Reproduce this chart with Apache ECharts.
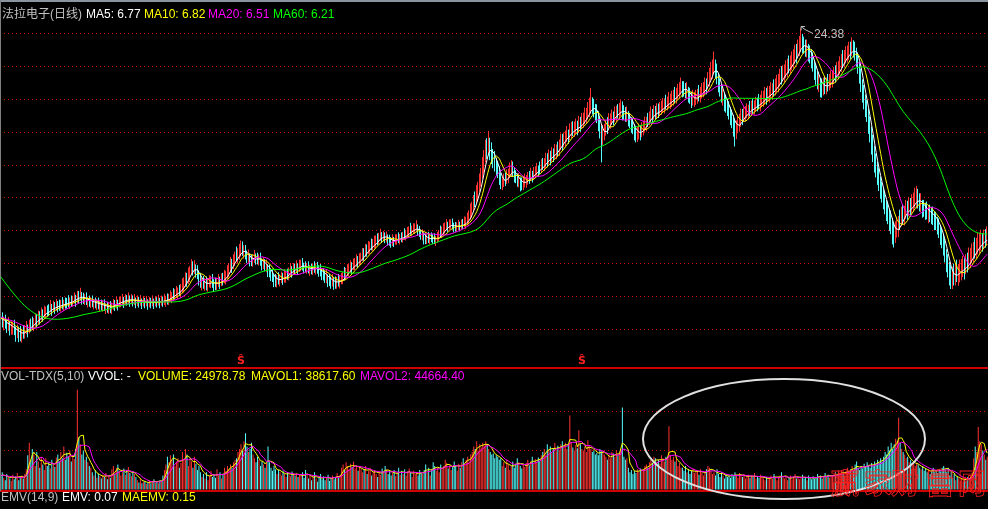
<!DOCTYPE html>
<html>
<head>
<meta charset="utf-8">
<script src="https://cdn.jsdelivr.net/npm/echarts@6/dist/echarts.min.js"></script>
<style>
html, body { margin: 0; padding: 0; background: #000; }
#chart { width: 988px; height: 509px; }
</style>
</head>
<body>
<div id="chart"></div>
<script>
// Daily candles: [open, close, low, high]
const ohlc = [
[4.22,4.15,3.98,4.36],[4.15,4.08,3.96,4.34],[4.06,4.14,3.89,4.23],[4.14,4.05,3.93,4.28],[4.05,3.99,3.83,4.16],[3.98,4.04,3.88,4.22],[4.04,3.96,3.77,4.11],
[3.94,3.96,3.79,4.11],[3.93,3.99,3.79,4.10],[3.99,3.90,3.78,4.15],[3.90,3.84,3.63,3.98],[3.84,3.88,3.71,4.03],[3.88,3.80,3.62,3.98],[3.80,3.78,3.64,4.00],
[3.78,3.85,3.61,3.93],[3.85,3.82,3.70,4.01],[3.82,3.90,3.70,4.02],[3.90,3.94,3.80,4.12],[3.94,3.92,3.73,4.03],[3.92,4.00,3.82,4.15],[4.04,4.00,3.86,4.18],
[4.04,4.02,3.90,4.23],[4.02,4.10,3.87,4.19],[4.10,4.16,3.99,4.31],[4.16,4.12,3.96,4.30],[4.12,4.20,4.04,4.39],[4.26,4.20,4.03,4.37],[4.20,4.30,4.13,4.47],
[4.30,4.26,4.10,4.42],[4.26,4.34,4.18,4.52],[4.34,4.38,4.17,4.49],[4.38,4.36,4.23,4.53],[4.44,4.36,4.24,4.56],[4.44,4.48,4.34,4.68],[4.48,4.44,4.25,4.57],
[4.44,4.50,4.35,4.66],[4.50,4.46,4.30,4.62],[4.46,4.52,4.38,4.71],[4.55,4.52,4.34,4.65],[4.55,4.50,4.38,4.69],[4.50,4.56,4.36,4.68],[4.56,4.54,4.42,4.76],
[4.54,4.60,4.37,4.69],[4.60,4.57,4.44,4.75],[4.62,4.57,4.44,4.74],[4.62,4.60,4.48,4.82],[4.60,4.66,4.43,4.75],[4.66,4.63,4.50,4.81],[4.63,4.68,4.50,4.80],
[4.68,4.72,4.58,4.90],[4.72,4.70,4.49,4.83],[4.70,4.78,4.59,4.95],[4.80,4.76,4.58,4.94],[4.76,4.82,4.66,5.04],
[4.82,4.74,4.55,4.91],[4.74,4.70,4.57,4.89],[4.70,4.73,4.54,4.85],[4.73,4.66,4.54,4.90],[4.66,4.68,4.47,4.77],[4.68,4.62,4.49,4.81],[4.62,4.64,4.46,4.76],
[4.64,4.60,4.48,4.81],[4.60,4.62,4.42,4.71],[4.62,4.57,4.45,4.75],[4.57,4.58,4.40,4.70],[4.58,4.54,4.42,4.75],[4.54,4.56,4.36,4.65],[4.56,4.52,4.39,4.69],
[4.52,4.54,4.36,4.66],[4.54,4.49,4.38,4.70],[4.49,4.50,4.30,4.59],[4.50,4.46,4.33,4.63],[4.46,4.48,4.30,4.60],[4.48,4.45,4.32,4.65],[4.45,4.52,4.29,4.61],
[4.52,4.56,4.41,4.71],[4.56,4.54,4.38,4.68],[4.54,4.60,4.44,4.78],[4.60,4.58,4.39,4.69],[4.58,4.63,4.47,4.78],[4.63,4.65,4.48,4.78],
[4.65,4.68,4.54,4.86],[4.68,4.64,4.46,4.77],[4.64,4.70,4.53,4.85],[4.70,4.67,4.52,4.82],[4.67,4.72,4.57,4.90],[4.72,4.68,4.49,4.81],[4.68,4.70,4.56,4.85],
[4.70,4.66,4.50,4.81],[4.66,4.67,4.54,4.85],[4.67,4.63,4.45,4.75],[4.63,4.66,4.51,4.81],[4.66,4.62,4.47,4.77],[4.62,4.64,4.52,4.82],[4.64,4.61,4.43,4.72],
[4.61,4.64,4.50,4.79],[4.64,4.60,4.45,4.74],[4.60,4.62,4.50,4.80],[4.62,4.59,4.41,4.70],[4.59,4.62,4.48,4.77],[4.62,4.60,4.45,4.74],[4.60,4.63,4.50,4.81],
[4.63,4.61,4.43,4.72],[4.61,4.64,4.50,4.79],[4.64,4.62,4.47,4.76],[4.62,4.65,4.52,4.83],[4.65,4.63,4.45,4.74],[4.63,4.66,4.52,4.81],[4.66,4.64,4.49,4.78],
[4.64,4.68,4.54,4.86],[4.68,4.70,4.49,4.80],[4.70,4.68,4.55,4.87],[4.68,4.73,4.54,4.86],[4.73,4.76,4.62,4.96],
[4.76,4.82,4.59,4.91],[4.86,4.82,4.69,5.03],[4.82,4.84,4.68,5.00],[4.84,4.90,4.74,5.10],[4.90,4.94,4.71,5.05],[4.94,4.92,4.79,5.13],[4.92,5.00,4.75,5.16],
[5.00,5.10,4.88,5.34],[5.10,5.22,4.90,5.37],[5.22,5.32,5.07,5.54],[5.32,5.28,5.07,5.52],[5.28,5.44,5.16,5.70],[5.44,5.60,5.22,5.75],[5.60,5.72,5.45,6.00],
[5.72,5.64,5.43,5.92],[5.64,5.70,5.48,5.96],[5.70,5.60,5.36,5.81],[5.60,5.46,5.31,5.78],[5.46,5.30,5.11,5.60],[5.30,5.20,5.04,5.52],[5.20,5.24,4.96,5.37],
[5.24,5.16,5.01,5.42],[5.16,5.18,4.95,5.34],[5.18,5.12,4.96,5.40],[5.12,5.20,4.92,5.33],[5.20,5.22,5.05,5.44],[5.22,5.26,5.03,5.42],[5.26,5.18,5.04,5.48],
[5.18,5.16,4.92,5.31],[5.16,5.13,4.97,5.36],[5.13,5.20,4.97,5.36],[5.20,5.24,5.06,5.48],[5.24,5.22,5.00,5.39],[5.22,5.30,5.09,5.50],[5.36,5.30,5.11,5.52],
[5.30,5.34,5.18,5.62],[5.34,5.46,5.14,5.59],[5.46,5.56,5.31,5.78],[5.56,5.68,5.37,5.86],[5.68,5.80,5.52,6.08],[5.80,5.78,5.52,6.01],[5.78,5.96,5.65,6.18],
[5.96,6.08,5.75,6.28],[6.16,6.08,5.92,6.48],[6.08,6.10,5.84,6.41],[6.10,6.30,5.97,6.58],[6.30,6.42,6.09,6.72],
[6.42,6.30,6.12,6.68],[6.30,6.34,6.02,6.53],[6.34,6.16,5.99,6.54],[6.16,6.06,5.85,6.32],[6.06,6.10,5.88,6.36],[6.10,5.96,5.74,6.21],[5.96,5.92,5.75,6.16],
[5.92,6.00,5.73,6.16],[6.00,6.08,5.86,6.34],[6.08,6.04,5.80,6.21],[6.04,5.98,5.81,6.24],[5.98,6.02,5.77,6.18],[6.02,5.90,5.76,6.24],[5.90,5.84,5.60,6.03],
[5.84,5.86,5.65,6.06],[5.86,5.76,5.57,6.00],[5.70,5.76,5.54,5.98],[5.76,5.62,5.38,5.81],[5.62,5.52,5.37,5.80],[5.52,5.44,5.25,5.66],[5.44,5.36,5.22,5.66],
[5.36,5.30,5.06,5.47],[5.30,5.24,5.07,5.48],[5.24,5.30,5.05,5.44],[5.30,5.28,5.14,5.54],[5.28,5.34,5.08,5.47],[5.34,5.36,5.19,5.56],[5.36,5.32,5.13,5.52],
[5.32,5.40,5.20,5.64],[5.40,5.46,5.20,5.59],[5.46,5.44,5.29,5.66],[5.44,5.54,5.27,5.70],[5.54,5.62,5.40,5.86],[5.62,5.58,5.36,5.75],[5.58,5.66,5.45,5.86],
[5.66,5.64,5.45,5.84],[5.64,5.72,5.52,5.96],[5.72,5.68,5.46,5.85],[5.68,5.76,5.55,5.98],[5.76,5.82,5.57,5.98],
[5.82,5.76,5.60,6.04],[5.76,5.72,5.50,5.87],[5.72,5.68,5.53,5.92],[5.68,5.70,5.49,5.86],[5.70,5.64,5.50,5.92],[5.64,5.66,5.42,5.79],[5.66,5.62,5.47,5.84],
[5.62,5.68,5.45,5.82],[5.68,5.66,5.52,5.92],[5.66,5.72,5.46,5.85],[5.72,5.64,5.49,5.90],[5.64,5.60,5.39,5.78],[5.60,5.56,5.40,5.82],[5.56,5.50,5.28,5.67],
[5.50,5.44,5.27,5.68],[5.44,5.40,5.19,5.58],[5.35,5.40,5.18,5.62],[5.40,5.30,5.06,5.47],[5.30,5.26,5.09,5.48],[5.26,5.23,5.01,5.40],[5.23,5.26,5.08,5.48],
[5.26,5.20,4.98,5.37],[5.20,5.19,5.01,5.40],[5.19,5.24,5.01,5.38],[5.24,5.22,5.08,5.48],[5.22,5.28,5.02,5.41],[5.28,5.32,5.15,5.52],[5.32,5.40,5.15,5.56],
[5.48,5.40,5.28,5.72],[5.40,5.56,5.28,5.69],[5.56,5.60,5.41,5.82],[5.60,5.66,5.41,5.82],[5.66,5.70,5.52,5.96],[5.76,5.70,5.48,5.89],[5.70,5.82,5.61,6.02],
[5.82,5.86,5.61,6.04],[5.86,5.92,5.72,6.18],[5.96,5.92,5.68,6.11],[5.92,6.00,5.79,6.22],[6.00,6.06,5.81,6.24],
[6.06,6.16,5.92,6.42],[6.26,6.16,5.94,6.41],[6.16,6.36,6.09,6.58],[6.36,6.32,6.09,6.56],[6.32,6.44,6.18,6.70],[6.44,6.50,6.20,6.67],[6.56,6.50,6.33,6.80],
[6.50,6.52,6.31,6.78],[6.52,6.66,6.40,6.92],[6.66,6.76,6.42,6.93],[6.76,6.72,6.53,7.02],[6.72,6.86,6.55,7.04],[6.86,6.92,6.70,7.22],[6.92,6.86,6.62,7.07],
[6.86,6.90,6.69,7.12],[6.90,6.82,6.61,7.06],[6.82,6.84,6.64,7.10],[6.84,6.76,6.52,6.97],[6.76,6.70,6.51,6.96],[6.70,6.66,6.43,6.86],[6.66,6.72,6.50,6.98],
[6.72,6.70,6.46,6.87],[6.70,6.76,6.55,6.98],[6.76,6.80,6.55,6.98],[6.80,6.78,6.62,7.06],[6.78,6.84,6.56,6.99],[6.84,6.82,6.65,7.06],[6.82,6.90,6.63,7.08],
[6.96,6.90,6.76,7.24],[6.90,7.00,6.72,7.17],[7.00,7.06,6.85,7.30],[7.06,7.12,6.85,7.32],[7.18,7.12,6.96,7.48],[7.12,7.14,6.90,7.35],[7.14,7.22,6.99,7.46],
[7.22,7.24,6.99,7.46],[7.24,7.28,7.08,7.60],[7.28,7.16,6.92,7.41],[7.16,7.04,6.87,7.34],[7.04,6.96,6.75,7.18],[6.88,6.96,6.72,7.20],[6.96,6.80,6.56,7.01],
[6.80,6.76,6.57,7.00],[6.76,6.82,6.57,6.98],[6.82,6.78,6.62,7.08],[6.78,6.84,6.56,6.99],[6.84,6.82,6.65,7.06],[6.82,6.78,6.57,6.98],[6.78,6.74,6.58,7.02],
[6.74,6.76,6.50,6.91],[6.76,6.86,6.63,7.08],[6.86,6.98,6.69,7.16],[7.08,6.98,6.84,7.36],[6.98,7.14,6.84,7.31],[7.14,7.22,6.97,7.46],[7.22,7.30,7.01,7.50],
[7.30,7.36,7.14,7.66],[7.36,7.32,7.08,7.53],[7.32,7.40,7.17,7.64],[7.40,7.42,7.19,7.64],[7.42,7.34,7.18,7.68],[7.34,7.30,7.06,7.49],[7.30,7.26,7.09,7.52],
[7.26,7.32,7.07,7.50],[7.32,7.36,7.16,7.62],[7.36,7.34,7.10,7.53],[7.34,7.42,7.21,7.64],[7.46,7.42,7.21,7.66],[7.42,7.50,7.30,7.78],[7.50,7.56,7.20,7.76],
[7.56,7.66,7.36,7.96],[7.66,7.80,7.42,8.07],[7.80,8.02,7.62,8.42],
[8.02,8.26,7.72,8.50],[8.26,8.50,8.04,8.86],[8.68,8.50,8.22,9.05],[8.50,8.90,8.44,9.42],[8.90,9.30,8.56,9.60],[9.30,9.66,9.04,10.10],[9.66,10.04,9.32,10.45],
[10.04,10.60,9.78,11.16],[10.60,11.20,10.09,11.65],[11.20,11.66,10.80,12.40],[11.80,11.66,11.03,12.52],[11.66,12.00,11.32,13.08],[12.00,11.60,10.95,12.55],
[11.60,11.30,10.70,12.20],[11.30,11.00,10.43,11.72],[11.00,10.80,10.22,11.58],[10.80,10.50,9.96,11.10],[10.50,10.30,9.82,10.90],[10.30,9.80,9.42,10.55],
[9.80,9.46,9.18,10.16],
[9.46,9.60,9.12,9.90],[9.60,9.70,9.30,10.10],[9.76,9.70,9.36,10.15],[9.70,9.86,9.48,10.36],[9.86,10.10,9.52,10.40],[10.10,10.30,9.82,10.80],
[10.30,10.46,9.92,10.95],[10.46,10.20,9.88,10.86],[10.20,10.00,9.56,10.46],[10.00,9.84,9.52,10.30],[9.84,9.70,9.32,10.11],[9.60,9.70,9.28,10.12],
[9.70,9.50,9.06,9.86],[9.50,9.44,9.12,9.86],[9.44,9.56,9.12,9.87],[9.56,9.64,9.28,10.10],[9.64,9.72,9.26,10.00],[9.72,9.80,9.44,10.18],[9.90,9.80,9.48,10.25],
[9.80,10.02,9.64,10.46],[10.02,9.96,9.56,10.26],[9.96,10.14,9.72,10.50],[10.14,10.22,9.82,10.55],[10.22,10.34,9.96,10.78],[10.34,10.30,9.90,10.60],
[10.50,10.30,10.06,10.86],[10.30,10.66,10.18,11.01],[10.66,10.60,10.32,11.10],[10.60,10.80,10.26,11.08],[10.80,10.98,10.46,11.46],[10.98,10.94,10.49,11.42],
[10.94,11.12,10.66,11.68],[11.20,11.12,10.61,11.59],[11.12,11.32,10.84,11.86],[11.32,11.28,10.83,11.76],[11.28,11.50,11.02,12.08],[11.50,11.66,11.01,12.05],
[11.66,11.60,11.20,12.26],[11.60,11.94,11.23,12.42],[11.94,12.24,11.62,12.88],
[12.40,12.24,11.65,12.85],[12.24,12.30,11.84,12.96],[12.30,12.60,11.89,13.12],[12.60,12.78,12.22,13.48],[12.78,12.70,12.09,13.19],[12.70,13.00,12.36,13.70],
[13.00,13.18,12.53,13.82],[13.18,13.10,12.68,13.88],[13.10,13.30,12.61,13.85],[13.30,13.34,12.84,14.10],[13.34,13.26,12.73,13.92],[13.26,13.56,12.92,14.34],
[13.70,13.56,13.01,14.25],[13.56,13.84,13.30,14.60],[13.84,13.96,13.33,14.62],[13.96,14.20,13.62,15.08],[14.20,14.44,13.65,15.05],[14.44,14.70,14.00,15.60],
[14.70,15.00,14.23,16.02],[15.00,15.34,14.52,16.98],[15.34,15.10,14.45,16.05],[15.10,14.90,14.20,15.90],[14.90,14.60,13.93,15.42],[14.60,14.40,13.72,15.38],
[14.40,13.70,13.05,14.75],[13.70,13.10,12.50,14.20],[13.10,12.40,10.80,13.52],
[12.40,12.90,12.02,13.58],[12.90,13.10,12.35,13.65],[13.10,13.34,12.70,14.00],[13.60,13.34,12.83,14.22],[13.34,13.80,13.22,14.58],[13.80,14.00,13.25,14.55],
[14.00,14.18,13.60,14.90],[14.18,14.10,13.53,14.72],[14.10,14.40,13.78,15.18],[14.40,14.70,13.85,15.25],[14.70,14.60,14.10,15.40],[14.60,14.80,14.13,15.52],
[14.80,14.88,14.32,15.78],[14.88,14.70,13.95,15.65],[14.70,14.60,14.00,15.30],[14.60,14.50,13.83,15.12],[14.40,14.50,13.82,15.18],[14.50,14.10,13.45,14.75],
[14.10,13.80,13.30,14.60],[13.80,13.60,12.93,14.22],[13.60,13.30,12.82,14.18],[13.30,13.00,12.35,13.65],[13.00,12.80,12.20,13.50],[12.80,12.90,12.23,13.42],
[12.90,12.96,12.42,13.68],[13.10,12.96,12.35,13.55],[12.96,13.18,12.60,13.80],[13.18,13.40,12.73,13.92],[13.40,13.60,13.02,14.28],[13.60,13.84,13.05,14.25],
[14.00,13.84,13.40,14.60],[13.84,14.20,13.53,14.72],[14.20,14.44,13.82,15.18],
[14.44,14.40,13.75,14.95],[14.40,14.60,14.00,15.30],[14.60,14.56,14.03,15.22],[14.56,14.70,14.12,15.48],[14.90,14.70,14.15,15.45],[14.70,14.86,14.30,15.60],
[14.86,15.06,14.43,15.72],[15.06,15.20,14.62,15.98],[15.20,15.30,14.55,15.95],[15.52,15.30,14.90,16.30],[15.30,15.40,14.83,16.12],[15.40,15.70,15.02,16.58],
[15.70,15.76,14.94,16.40],[15.76,15.80,15.12,16.70],[15.80,16.00,15.24,16.80],[16.10,16.00,15.46,17.10],[16.00,16.30,15.44,17.00],[16.30,16.56,15.82,17.40],
[16.56,16.80,15.94,17.60],[16.80,17.00,16.26,18.10],[17.00,16.90,16.04,17.70],[16.90,16.80,16.12,17.70],[16.80,16.70,15.94,17.50],[16.60,16.70,15.96,17.60],
[16.70,16.30,15.54,17.10],[16.30,16.00,15.42,17.00],[16.00,15.80,15.04,16.60],[15.80,15.90,15.26,16.80],[15.90,15.96,15.14,16.60],[15.96,16.00,15.32,16.80],
[16.00,16.20,15.44,16.90],[16.30,16.20,15.66,17.30],[16.20,16.50,15.54,17.10],[16.50,16.60,15.92,17.50],[16.60,16.90,16.04,17.60],[16.90,17.10,16.36,18.10],
[17.32,17.10,16.34,18.00],
[17.10,17.80,16.82,18.70],[17.80,18.30,17.14,19.20],[18.30,18.78,17.76,19.90],[18.78,19.20,17.94,20.20],[19.20,19.56,18.52,21.20],[19.56,18.80,18.04,20.20],
[18.80,18.00,17.36,19.70],[18.00,17.30,16.54,18.60],[17.30,16.80,16.12,18.00],[16.80,16.30,15.54,17.40],[15.90,16.30,15.26,17.10],[16.30,15.60,14.74,16.50],
[15.60,15.34,14.62,16.30],[15.34,15.00,14.33,15.92],[15.00,14.60,14.02,15.68],[14.60,14.30,13.55,15.15],[14.30,14.00,13.30,14.90],[14.00,13.50,12.63,14.42],
[13.50,13.18,11.90,14.08],[13.18,13.40,12.45,13.95],[13.40,13.58,12.90,14.30],[13.58,13.90,13.03,14.52],[13.90,14.18,13.42,14.98],
[14.40,14.18,13.55,14.95],[14.18,14.36,13.80,15.10],[14.36,14.56,13.83,15.22],[14.56,14.70,14.12,15.48],[14.70,14.80,14.05,15.35],[14.90,14.80,14.30,15.70],
[14.80,15.06,14.33,15.72],[15.06,15.00,14.52,15.88],[15.00,15.20,14.45,15.75],[15.20,15.34,14.70,16.10],[15.34,15.30,14.73,16.02],[15.50,15.30,14.92,16.38],
[15.30,15.70,14.74,16.30],[15.70,15.80,15.12,16.70],[15.80,15.90,15.14,16.70],[15.90,16.10,15.36,17.10],[16.30,16.10,15.34,17.00],[16.10,16.20,15.62,17.20],
[16.20,16.40,15.54,17.20],[16.40,16.60,15.86,17.60],[16.60,16.80,15.84,17.50],[16.90,16.80,16.12,17.90],[16.80,17.10,16.24,18.00],[17.10,17.32,16.56,18.40],
[17.32,17.70,16.54,18.50],[17.70,18.00,17.12,19.10],[18.40,18.00,17.34,19.40],[18.00,18.30,17.66,19.50],[18.30,18.70,17.54,19.60],[18.70,18.96,18.02,20.10],
[18.96,19.20,18.14,20.30],[19.40,19.20,18.56,20.70],[19.20,19.70,18.54,20.70],[19.70,19.90,18.92,21.20],[19.90,20.30,19.14,21.50],[20.30,20.70,19.66,22.10],
[21.16,20.70,19.74,22.20],[20.70,21.50,20.32,22.80],[21.50,22.00,20.64,23.30],[22.00,22.48,21.16,24.38],
[22.48,22.00,20.94,23.60],[22.00,21.80,20.92,23.20],[21.80,21.60,20.54,22.80],[21.40,21.60,20.46,22.80],[21.60,21.00,19.94,22.20],[21.00,20.60,19.72,22.00],
[20.60,20.16,19.14,21.50],[20.16,19.50,18.76,21.10],[19.50,18.80,17.84,20.10],[18.80,18.18,17.32,19.60],[18.18,17.80,16.84,18.90],[17.40,17.80,16.56,18.70],
[17.80,17.10,16.04,18.00],[17.10,17.00,16.02,18.00],[17.00,17.20,16.24,18.10],[17.20,17.10,16.36,18.20],[17.10,17.32,16.34,18.10],[17.50,17.32,16.62,18.50],
[17.32,17.60,16.74,18.50],[17.60,17.84,16.96,18.90],[17.84,18.10,17.04,18.90],[18.10,18.30,17.42,19.30],[18.50,18.30,17.54,19.50],[18.30,18.78,17.86,19.90],
[18.78,19.10,17.94,20.00],[19.10,19.50,18.42,20.60],[19.50,19.90,18.74,20.90],[20.20,19.90,19.16,21.40],[19.90,20.50,19.24,21.40],[20.50,20.78,19.72,21.90],
[20.78,20.90,19.84,22.00],[20.90,21.20,20.16,22.50],[21.40,21.20,20.24,22.50],[21.20,21.68,20.62,23.10],[21.68,21.40,20.44,22.70],[21.40,20.90,20.06,22.50],
[20.90,20.40,19.34,21.70],
[20.40,19.30,18.52,21.10],[19.30,18.30,17.44,19.90],[18.30,17.32,16.56,19.10],[17.32,16.50,15.54,17.90],[16.50,15.70,14.92,17.30],[15.70,15.00,14.23,16.32],
[15.00,14.44,13.82,15.78],[14.44,13.60,12.85,14.95],[13.60,12.80,12.20,14.30],[12.80,12.02,11.33,13.42],[12.02,11.40,10.82,12.78],[11.40,10.90,10.15,11.95],
[10.90,10.34,9.86,11.40],[10.34,9.90,9.42,10.85],[9.90,9.50,9.08,10.46],[9.50,9.20,8.66,9.90],[9.20,8.88,8.46,9.60],[8.88,8.60,8.12,9.25],
[8.60,8.30,7.88,9.06],[8.30,8.10,7.56,8.60],[8.10,7.86,7.42,8.50],[7.86,7.60,7.12,8.15],[7.60,7.42,6.98,8.06],[7.42,7.10,6.56,7.70],
[7.10,6.96,6.44,7.50],[6.96,7.10,6.62,7.55],[7.10,7.26,6.84,7.76],[7.26,7.42,6.86,7.80],[7.60,7.42,7.16,8.10],[7.42,7.86,7.32,8.25],
[7.86,7.80,7.44,8.36],[7.80,7.96,7.36,8.30],[7.96,8.10,7.66,8.60],[8.10,8.04,7.62,8.55],[8.04,8.20,7.78,8.76],[8.28,8.20,7.76,8.70],
[8.20,8.36,7.92,8.90],[8.36,8.50,8.02,8.99],[8.50,8.60,8.18,9.26],[8.60,8.72,8.16,9.36],[8.72,8.56,8.16,9.20],[8.56,8.46,8.02,8.95],
[8.36,8.46,7.98,8.96],[8.46,8.20,7.72,8.60],[8.20,8.14,7.76,8.60],[8.14,8.06,7.62,8.45],[8.06,8.00,7.64,8.52],[7.96,8.00,7.46,8.30],
[8.00,7.90,7.52,8.36],[7.90,7.86,7.42,8.25],[7.86,7.76,7.38,8.26],[7.76,7.66,7.16,8.00],[7.66,7.54,7.16,8.00],[7.54,7.36,6.97,7.76],
[7.36,7.16,6.82,7.68],[7.16,6.96,6.54,7.37],[6.96,6.76,6.41,7.24],
[6.76,6.50,6.13,7.00],[6.50,6.20,5.88,6.78],[6.20,5.92,5.54,6.37],[5.92,5.70,5.37,6.18],[5.70,5.50,5.11,5.90],[5.50,5.36,5.00,5.78],
[5.36,5.44,5.00,5.73],[5.44,5.40,5.11,5.84],[5.40,5.50,5.11,5.86],[5.56,5.50,5.22,5.98],[5.50,5.56,5.10,5.83],[5.56,5.60,5.21,5.98],
[5.60,5.64,5.27,6.00],[5.64,5.70,5.38,6.12],[5.70,5.66,5.30,6.03],[5.66,5.80,5.47,6.18],[5.90,5.80,5.53,6.24],[5.80,6.00,5.66,6.44],
[6.00,6.08,5.68,6.43],[6.08,6.18,5.85,6.60],[6.18,6.26,5.87,6.66],[6.36,6.26,6.02,6.84],[6.26,6.44,6.00,6.83],[6.44,6.56,6.17,7.04],
[6.56,6.60,6.21,7.04],[6.60,6.68,6.32,7.18],[6.68,6.64,6.28,7.03],[6.64,6.74,6.37,7.18],[6.80,6.74,6.43,7.20],[6.74,6.84,6.52,7.32]
];

// Daily volume (lots), one per candle
const volumes = [
18000,22000,15000,12000,20000,16000,14000,11000,19000,13000,17000,21000,12000,15000,18000,14000,20000,
26000,44000,60000,38000,52000,45000,30000,48000,
36000,28000,42000,32000,25000,40000,30000,35000,27000,38000,33000,29000,41000,
45000,36000,48000,40000,55000,38000,47000,42000,50000,36000,44000,39000,52000,
128000,67000,
58000,45000,50000,38000,42000,35000,30000,28000,
22000,18000,25000,15000,20000,17000,14000,19000,16000,21000,13000,18000,15000,
26000,30000,20000,28000,32000,24000,18000,22000,27000,19000,25000,29000,21000,17000,23000,20000,16000,
12000,9000,14000,8000,10000,11000,7000,9000,12000,8000,10000,13000,9000,11000,8000,12000,10000,
18000,25000,32000,42000,35000,44000,38000,45000,30000,36000,40000,28000,34000,
48000,38000,52000,45000,30000,40000,36000,28000,42000,33000,25000,30000,22000,
16000,20000,14000,22000,12000,18000,24000,16000,20000,15000,26000,18000,22000,14000,19000,28000,24000,30000,26000,32000,28000,35000,38000,
40000,48000,52000,58000,
50000,62000,72000,55000,48000,52000,60000,
45000,40000,35000,42000,38000,30000,36000,32000,28000,34000,
55000,
35000,28000,24000,30000,26000,20000,25000,22000,18000,24000,20000,16000,22000,19000,17000,23000,20000,18000,21000,16000,19000,
18000,22000,15000,25000,20000,14000,18000,12000,16000,22000,14000,10000,16000,20000,13000,17000,12000,15000,19000,11000,14000,18000,13000,16000,21000,15000,19000,
28000,32000,25000,35000,30000,26000,33000,29000,36000,27000,31000,24000,30000,26000,
22000,26000,30000,20000,24000,28000,18000,22000,25000,20000,16000,24000,19000,27000,22000,30000,26000,20000,23000,18000,
21000,25000,17000,22000,28000,19000,24000,20000,26000,18000,23000,27000,21000,16000,24000,20000,22000,18000,25000,21000,
20000,25000,32000,22000,28000,18000,26000,35000,30000,24000,28000,22000,32000,26000,30000,38000,34000,27000,31000,25000,
29000,36000,30000,24000,33000,28000,35000,40000,32000,38000,42000,36000,45000,
48000,55000,52000,62000,50000,58000,54000,60000,56000,62000,58000,52000,48000,45000,
46000,40000,44000,42000,38000,40000,
30000,35000,28000,38000,32000,25000,30000,36000,28000,33000,40000,35000,30000,27000,32000,29000,34000,38000,31000,36000,42000,33000,39000,35000,41000,37000,44000,
48000,52000,45000,58000,50000,55000,47000,53000,60000,49000,56000,51000,58000,
62000,55000,60000,52000,58000,95000,60000,54000,50000,57000,53000,76000,58000,52000,50000,55000,48000,63000,55000,52000,48000,50000,45000,47000,44000,52000,49000,
50000,45000,42000,38000,44000,40000,48000,46000,42000,50000,44000,47000,52000,
105000,
42000,38000,40000,28000,22000,25000,20000,24000,21000,26000,23000,27000,25000,
26000,30000,32000,28000,35000,38000,34000,42000,40000,36000,38000,33000,44000,40000,36000,42000,39000,
81000,
44000,38000,42000,36000,40000,30000,34000,28000,
28000,24000,30000,22000,26000,20000,24000,27000,21000,25000,23000,19000,26000,22000,
18000,22000,26000,30000,28000,24000,20000,22000,18000,26000,20000,16000,22000,18000,14000,20000,16000,18000,15000,20000,
17000,22000,19000,15000,21000,18000,16000,20000,14000,17000,19000,15000,18000,16000,21000,14000,17000,15000,19000,16000,
14000,12000,16000,13000,15000,18000,14000,20000,16000,12000,15000,18000,22000,17000,14000,16000,12000,15000,18000,13000,
16000,20000,14000,17000,13000,15000,19000,14000,16000,12000,18000,15000,13000,17000,14000,16000,20000,15000,18000,14000,
17000,21000,16000,19000,15000,18000,
18000,20000,22000,16000,24000,20000,25000,22000,18000,24000,28000,22000,26000,30000,24000,32000,36000,28000,25000,30000,
27000,33000,29000,35000,31000,28000,34000,30000,36000,32000,38000,34000,40000,36000,
42000,48000,45000,55000,50000,60000,52000,58000,65000,62000,
92000,
60000,52000,48000,45000,40000,42000,35000,38000,32000,36000,30000,34000,
32000,28000,26000,30000,24000,27000,22000,26000,20000,24000,28000,22000,25000,21000,26000,23000,28000,
30000,26000,22000,28000,18000,24000,15000,20000,12000,17000,14000,11000,15000,10000,13000,12000,16000,14000,18000,22000,
40000,55000,48000,80000,62000,58000,50000,45000,38000,42000
];

// Closes of the sessions just before the first candle (used only for the averages)
const earlierCloses = [
8.20,8.05,7.92,7.80,7.66,7.52,7.40,7.28,7.14,7.00,6.88,6.76,6.64,6.52,6.40,6.28,6.16,6.05,5.94,5.84,
5.74,5.64,5.55,5.46,5.38,5.30,5.22,5.14,5.06,4.98,4.90,4.82,4.76,4.70,4.64,4.58,4.53,4.48,4.44,4.40,
4.36,4.33,4.30,4.28,4.26,4.24,4.22,4.20,4.19,4.18,4.17,4.16,4.16,4.17,4.18,4.19,4.20,4.21,4.22
];

// Sessions carrying an "S" flag under the candles
const flaggedBars = [160, 387];

const maPeriods = [5, 10, 20, 60];
const maColors = ['#ffffff', '#ffff00', '#ff00ff', '#00ff00'];
const volPeriods = [5, 10];
const volColors = ['#ffff00', '#ff00ff'];

const FONT = '12px "Liberation Sans", Arial, "Noto Sans CJK SC", sans-serif';
const headerRows = [
  { y: 15, items: [
    ['法拉电子(日线)', 2, '#c0c0c0'], ['MA5: 6.77', 86, '#ffffff'], ['MA10: 6.82', 144, '#ffff00'],
    ['MA20: 6.51', 208, '#ff00ff'], ['MA60: 6.21', 273, '#00ff00']] },
  { y: 377, items: [
    ['VOL-TDX(5,10)', 1, '#c0c0c0'], ['VVOL: -', 88, '#ffffff'], ['VOLUME: 24978.78', 138, '#ffff00'],
    ['MAVOL1: 38617.60', 251, '#ffff00'], ['MAVOL2: 44664.40', 360, '#ff00ff']] },
  { y: 498, items: [
    ['EMV(14,9)', 1, '#c0c0c0'], ['EMV: 0.07', 62, '#ffffff'], ['MAEMV: 0.15', 122, '#ffff00']] }
];
const watermark = ['赢', '家', '财', '富', '网'];

const UP = '#ff3232', DOWN = '#54fcfc';

function movingAvg(values, n, prior) {
  const all = prior.concat(values);
  const off = prior.length;
  return values.map((_, i) => {
    const end = off + i;
    const start = Math.max(0, end - n + 1);
    let s = 0;
    for (let k = start; k <= end; k++) s += all[k];
    return +(s / (end - start + 1)).toFixed(4);
  });
}

const closes = ohlc.map(d => d[1]);
const cats = ohlc.map((_, i) => i);

const series = [{
  type: 'candlestick', xAxisIndex: 0, yAxisIndex: 0, data: ohlc, large: false,
  barWidth: 1,
  itemStyle: { color: UP, color0: DOWN, borderColor: UP, borderColor0: DOWN, borderWidth: 1 }
}];
maPeriods.forEach((p, k) => series.push({
  type: 'line', xAxisIndex: 0, yAxisIndex: 0, showSymbol: false, silent: true,
  data: movingAvg(closes, p, earlierCloses),
  lineStyle: { color: maColors[k], width: 1 }
}));
series.push({
  type: 'bar', xAxisIndex: 1, yAxisIndex: 2, barWidth: 1,
  data: volumes.map((v, i) => ({ value: v, itemStyle: { color: ohlc[i][1] >= ohlc[i][0] ? UP : DOWN } }))
});
volPeriods.forEach((p, k) => series.push({
  type: 'line', xAxisIndex: 1, yAxisIndex: 2, showSymbol: false, silent: true,
  data: movingAvg(volumes, p, []),
  lineStyle: { color: volColors[k], width: 1 }
}));

const chart = echarts.init(document.getElementById('chart'));
chart.setOption({
  backgroundColor: '#000',
  animation: false,
  grid: [
    { left: 0, right: 0, top: -0.5, height: 363 },
    { left: 0, right: 0, top: 372.5, height: 117 }
  ],
  xAxis: [
    { type: 'category', gridIndex: 0, data: cats, show: false },
    { type: 'category', gridIndex: 1, data: cats, show: false }
  ],
  yAxis: [
    { type: 'log', gridIndex: 0, min: 3.2, max: 29, show: false },
    { type: 'value', gridIndex: 0, min: 0, max: 11, interval: 1,
      axisLine: { show: false }, axisTick: { show: false }, axisLabel: { show: false },
      splitLine: { show: true, showMinLine: false, showMaxLine: false, lineStyle: { color: '#d00000', type: [1, 3] } } },
    { type: 'value', gridIndex: 1, min: 0, max: 150000, interval: 50000,
      axisLine: { show: false }, axisTick: { show: false }, axisLabel: { show: false },
      splitLine: { show: true, showMinLine: false, showMaxLine: false, lineStyle: { color: '#d00000', type: [1, 3] } } }
  ],
  series: series
});

// Overlay: header texts, panel borders, flags, peak label, annotation
const graphics = [];
headerRows.forEach(row => row.items.forEach(([t, x, c]) => {
  graphics.push({ type: 'text', x: x, y: row.y, z: 50,
    style: { text: t, fill: c, font: FONT, textVerticalAlign: 'middle' } });
}));
graphics.push({ type: 'line', z: 40, shape: { x1: 0, y1: 1, x2: 988, y2: 1 }, style: { stroke: '#8a94a0', lineWidth: 2 } });
graphics.push({ type: 'line', z: 40, shape: { x1: 0, y1: 368, x2: 988, y2: 368 }, style: { stroke: '#d00000', lineWidth: 2 } });
graphics.push({ type: 'line', z: 40, shape: { x1: 0, y1: 491, x2: 988, y2: 491 }, style: { stroke: '#d00000', lineWidth: 2 } });
graphics.push({ type: 'line', z: 40, shape: { x1: 0.5, y1: 0, x2: 0.5, y2: 491 }, style: { stroke: '#808080', lineWidth: 1 } });

flaggedBars.forEach(i => {
  const x = chart.convertToPixel({ xAxisIndex: 0 }, i);
  graphics.push({ type: 'text', x: x, y: 367, z: 50,
    style: { text: 'Ŝ', fill: '#ff2020', font: 'bold 11px "DejaVu Sans", sans-serif', textAlign: 'center', textVerticalAlign: 'bottom' } });
});

let peak = 0;
ohlc.forEach((d, i) => { if (d[3] > ohlc[peak][3]) peak = i; });
const pp = chart.convertToPixel({ xAxisIndex: 0, yAxisIndex: 0 }, [peak, ohlc[peak][3]]);
graphics.push({ type: 'polyline', z: 50, shape: { points: [[pp[0] + 12, pp[1] + 5], [pp[0] + 4, pp[1] + 1], [pp[0], pp[1] - 2]] },
  style: { stroke: '#c0c0c0', lineWidth: 1, fill: 'none' } });
graphics.push({ type: 'polyline', z: 50, shape: { points: [[pp[0] + 4, pp[1] - 2], [pp[0], pp[1] - 2], [pp[0], pp[1] + 2]] },
  style: { stroke: '#c0c0c0', lineWidth: 1, fill: 'none' } });
graphics.push({ type: 'text', x: pp[0] + 13, y: pp[1] + 6, z: 50,
  style: { text: ohlc[peak][3].toFixed(2), fill: '#c0c0c0', font: FONT, textVerticalAlign: 'middle' } });

graphics.push({ type: 'ellipse', z: 45, shape: { cx: 784, cy: 439, rx: 141, ry: 60 },
  style: { fill: 'none', stroke: '#e0e0e0', lineWidth: 2 } });

const wmX = [845, 878, 905, 940, 972];
watermark.forEach((ch, k) => graphics.push({ type: 'text', x: wmX[k], y: 483, z: 46,
  style: { text: ch, fill: 'none', stroke: '#ff2020', lineWidth: 0.8,
    font: 'bold 28px "Noto Sans CJK SC", sans-serif', textAlign: 'center', textVerticalAlign: 'middle' } }));

chart.setOption({ graphic: graphics });
</script>
</body>
</html>
